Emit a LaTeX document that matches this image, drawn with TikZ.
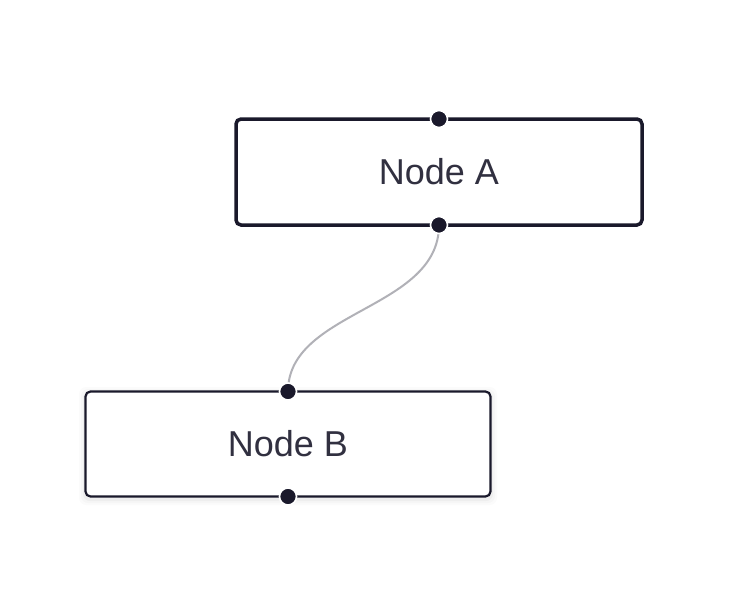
\documentclass[tikz,border=0pt]{standalone}
\usepackage{fontspec}
\setmainfont{Liberation Sans}
\definecolor{ink}{HTML}{1A192B}
\definecolor{edgegray}{HTML}{B1B1B7}
\tikzset{
  x=1pt, y=-1pt,
  flownode/.style={draw=ink, fill=white, rounded corners=5pt, inner sep=0pt, outer sep=0pt, font=\fontsize{36}{40}\selectfont, text=ink!90},
  handle/.style={circle, fill=ink, draw=white, line width=1.6pt, minimum size=17pt, inner sep=0pt},
  flowedge/.style={draw=edgegray, line width=2pt}
}
\begin{document}
\begin{tikzpicture}
\useasboundingbox[fill=white] (0,0) rectangle (734,606);
% shadow for B
\foreach \i/\o in {6/0.015,4/0.02,2/0.03}{
  \fill[black, opacity=\o, rounded corners=7pt] (85-\i,391-\i+2) rectangle (491+\i,497+\i+2);
}
\node[flownode, line width=3.5pt, minimum width=406pt, minimum height=106pt] (A) at (439,172) {Node A};
\node[flownode, line width=2.2pt, minimum width=405pt, minimum height=105pt] (B) at (288,444) {Node B};
\draw[flowedge] (A.south) .. controls (439,310) and (288,310) .. (B.north);
\node[handle] (At) at (A.north) {};
\node[handle] (Ab) at (A.south) {};
\node[handle] (Bt) at (B.north) {};
\node[handle] (Bb) at (B.south) {};
\end{tikzpicture}
\end{document}
